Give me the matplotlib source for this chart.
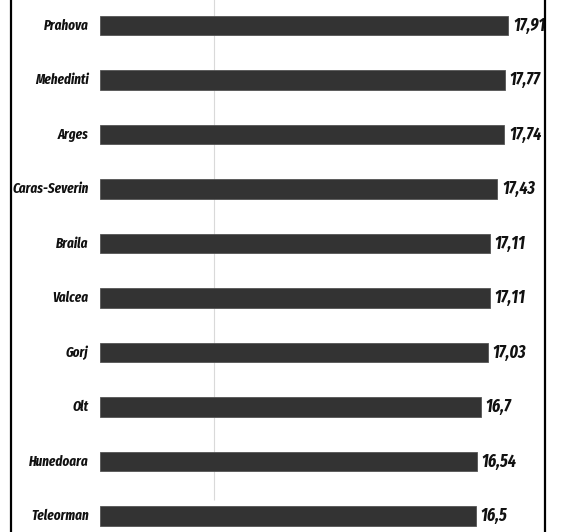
import matplotlib
matplotlib.use("Agg")
import matplotlib.pyplot as plt
from matplotlib.lines import Line2D

judete = ["Prahova", "Mehedinti", "Arges", "Caras-Severin", "Braila",
          "Valcea", "Gorj", "Olt", "Hunedoara", "Teleorman"]
valori = [17.91, 17.77, 17.74, 17.43, 17.11, 17.11, 17.03, 16.7, 16.54, 16.5]
etichete = [f"{v:g}".replace(".", ",") for v in valori]
grila_x = [5]

W, H = 567, 532
fig = plt.figure(figsize=(W / 100, H / 100), dpi=100)
ax = fig.add_axes([0, 0, 1, 1])

# 0 at pixel 100, about 22.8 px per unit
px_per_unit = 22.8
x0 = 100
ax.set_xlim(-x0 / px_per_unit, (W - x0) / px_per_unit)
row = 54.5
top = 25.5
ax.set_ylim((H - top) / row, -top / row)

pos = list(range(len(judete)))
ax.vlines(grila_x, -1, 8.7, color="#d9d9d9", lw=0.8, zorder=0)
ax.barh(pos, valori, height=0.35, color="#333333", edgecolor="#555555",
        lw=0.6, zorder=2)

familii = ["Fira Sans Extra Condensed", "PT Sans Narrow", "Archivo Narrow",
           "DejaVu Sans"]
stil = dict(family=familii, style="italic", weight="bold",
            color="#111111", va="center")
for i, (n, v, e) in enumerate(zip(judete, valori, etichete)):
    ax.text(-0.5, i, n, ha="right", fontsize=10.2, **stil)
    ax.text(v + 0.2, i, e, ha="left", fontsize=12.5, **stil)

ax.axis("off")

for xp in (11, 545):
    fig.add_artist(Line2D([xp / W, xp / W], [0, 1], color="black", lw=1.6,
                          transform=fig.transFigure))

fig.savefig("out.png", dpi=100)
